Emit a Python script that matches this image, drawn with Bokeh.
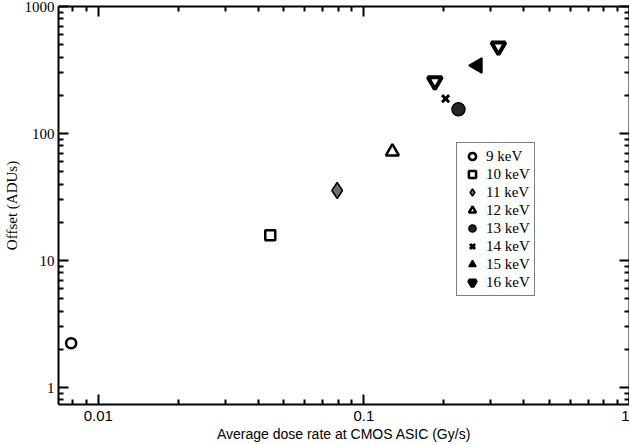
from bokeh.plotting import figure
from bokeh.models import (Range1d, FixedTicker, LogAxis, CustomJSTickFormatter,
                          Legend, LegendItem)
from bokeh.embed import file_html
from bokeh.resources import INLINE
import math

# ---- data ----
energies = ["9 keV", "10 keV", "11 keV", "12 keV", "13 keV", "14 keV", "15 keV", "16 keV"]
dose_9 = [0.0079];        offset_9 = [2.23]
dose_10 = [0.0444];       offset_10 = [15.8]
dose_11 = [0.0793];       offset_11 = [35.6]
dose_12 = [0.128];        offset_12 = [72.0]
dose_13 = [0.227];        offset_13 = [155.0]
dose_14 = [0.203];        offset_14 = [188.0]
dose_15 = [0.268];        offset_15 = [343.0]
dose_16 = [0.185, 0.321]; offset_16 = [258.0, 484.0]

x_major = [0.01, 0.1, 1.0]
x_minor = [0.008, 0.009, 0.02, 0.03, 0.04, 0.05, 0.06, 0.07, 0.08, 0.09,
           0.2, 0.3, 0.4, 0.5, 0.6, 0.7, 0.8, 0.9]
y_major = [1, 10, 100, 1000]
y_minor = [0.8, 0.9, 2, 3, 4, 5, 6, 7, 8, 9, 20, 30, 40, 50, 60, 70, 80, 90,
           200, 300, 400, 500, 600, 700, 800, 900]

p = figure(width=629, height=444, x_axis_type="log", y_axis_type="log",
           x_range=Range1d(0.00708, 1.0), y_range=Range1d(0.735, 1000),
           output_backend="svg", toolbar_location=None,
           min_border_left=49, min_border_right=0, min_border_top=6, min_border_bottom=0)
p.xgrid.visible = False
p.ygrid.visible = False
p.outline_line_color = None
p.background_fill_color = "white"
p.border_fill_color = "white"

fmt = CustomJSTickFormatter(code="return tick.toString();")
blank = CustomJSTickFormatter(code="return '';")
xt = FixedTicker(ticks=x_major, minor_ticks=x_minor)
yt = FixedTicker(ticks=y_major, minor_ticks=y_minor)

def style_axis(ax, ticker, show_labels, serif):
    ax.ticker = ticker
    ax.axis_line_width = 2
    ax.axis_line_color = "black"
    ax.major_tick_in = 10
    ax.major_tick_out = 0
    ax.minor_tick_in = 5
    ax.minor_tick_out = 0
    ax.major_tick_line_width = 2
    ax.minor_tick_line_width = 2
    ax.major_tick_line_color = "black"
    ax.minor_tick_line_color = "black"
    ax.major_label_text_color = "black"
    ax.major_label_text_font = "Liberation Serif" if serif else "Liberation Sans"
    if show_labels:
        ax.formatter = fmt
        ax.major_label_text_font_size = "15px"
        ax.major_label_standoff = 4
    else:
        ax.formatter = blank
        ax.major_label_text_font_size = "1px"
        ax.major_label_standoff = 0
        ax.axis_label_standoff = 0

xa = p.xaxis[0]
ya = p.yaxis[0]
style_axis(xa, xt, True, False)
style_axis(ya, yt, True, True)
xa.major_label_standoff = 6
xa.axis_label = "Average dose rate at CMOS ASIC (Gy/s)"
xa.axis_label_text_font = "Liberation Sans"
xa.axis_label_text_font_size = "14px"
xa.axis_label_text_font_style = "normal"
xa.axis_label_text_color = "black"
xa.axis_label_standoff = 2
ya.axis_label = "Offset (ADUs)"
ya.axis_label_text_font = "Liberation Serif"
ya.axis_label_text_font_size = "15px"
ya.axis_label_text_font_style = "normal"
ya.axis_label_text_color = "black"
ya.axis_label_standoff = 2

top = LogAxis()
style_axis(top, xt, False, False)
p.add_layout(top, "above")
right = LogAxis()
style_axis(right, yt, False, True)
p.add_layout(right, "right")

r9 = p.scatter(dose_9, offset_9, marker="circle", size=10, line_width=2.5,
               line_color="black", fill_color="white")
r10 = p.scatter(dose_10, offset_10, marker="square", size=10, line_width=2.5,
                line_color="black", fill_color="white")
r11 = p.scatter(dose_11, offset_11, marker="diamond", size=16,
                line_width=1.5, line_color="black", fill_color="#6e6e6e")
r12 = p.scatter(dose_12, offset_12, marker="triangle", size=13, line_width=2.5,
                line_color="black", fill_color="white")
r13 = p.scatter(dose_13, offset_13, marker="circle", size=13, line_width=1.5,
                line_color="black", fill_color="#262626")
r14 = p.scatter(dose_14, offset_14, marker="x", size=10, line_width=3,
                line_color="black")
r15 = p.scatter(dose_15, offset_15, marker="triangle", size=15, angle=math.pi / 2,
                line_width=1.5, line_color="black", fill_color="black")
r16 = p.scatter(dose_16, offset_16, marker="inverted_triangle", size=14, line_width=4,
                line_color="black", fill_color="white")

renderers = [r9, r10, r11, r12, r13, r14, r15, r16]
legend = Legend(items=[LegendItem(label=e, renderers=[r]) for e, r in zip(energies, renderers)],
                location=(398, 108))
legend.label_text_font = "Liberation Serif"
legend.label_text_font_size = "15px"
legend.label_text_color = "black"
legend.label_height = 18
legend.glyph_height = 18
legend.glyph_width = 22
legend.label_standoff = 3
legend.spacing = 0
legend.padding = 4
legend.margin = 0
legend.border_line_color = "black"
legend.border_line_width = 1
legend.background_fill_color = "white"
legend.background_fill_alpha = 1
p.add_layout(legend, "center")

open("out.html", "w").write(file_html(p, INLINE))
